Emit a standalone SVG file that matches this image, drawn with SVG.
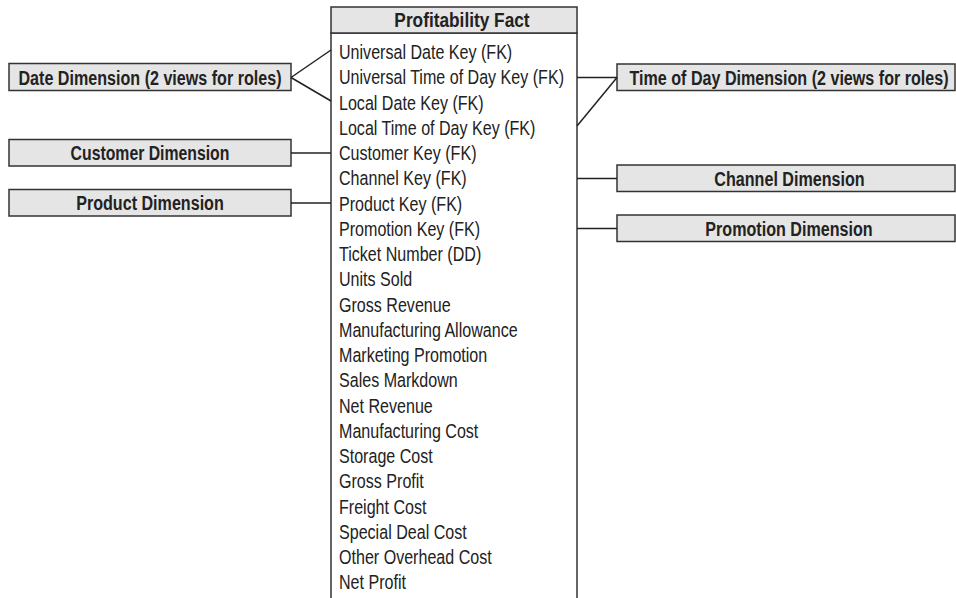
<svg xmlns="http://www.w3.org/2000/svg" width="956" height="598" viewBox="0 0 956 598">
<style>
.box{fill:#e5e5e5;stroke:#333;stroke-width:1.5}
.body{fill:#fff;stroke:#333;stroke-width:1.5}
.dim{font-family:"Liberation Sans",Arial,sans-serif;font-weight:bold;font-size:19.5px;fill:#222;text-anchor:middle}
.row{font-family:"Liberation Sans",Arial,sans-serif;font-size:19.5px;fill:#222}
.conn line{stroke:#222;stroke-width:1.5}
</style>
<rect width="956" height="598" fill="#fff"/>
<g id="fact">
<rect class="body" x="331" y="33" width="246" height="600"/>
<rect class="box" x="331" y="7" width="246" height="26"/>
<text class="dim" transform="translate(462,26.7) scale(0.886,1)" font-size="18">Profitability Fact</text>
<g class="row" transform="translate(339,0) scale(0.8245,1)">
<text x="0" y="59.3">Universal Date Key (FK)</text>
<text x="0" y="84.5">Universal Time of Day Key (FK)</text>
<text x="0" y="109.8">Local Date Key (FK)</text>
<text x="0" y="135">Local Time of Day Key (FK)</text>
<text x="0" y="160.3">Customer Key (FK)</text>
<text x="0" y="185.5">Channel Key (FK)</text>
<text x="0" y="210.7">Product Key (FK)</text>
<text x="0" y="236">Promotion Key (FK)</text>
<text x="0" y="261.2">Ticket Number (DD)</text>
<text x="0" y="286.5">Units Sold</text>
<text x="0" y="311.7">Gross Revenue</text>
<text x="0" y="336.9">Manufacturing Allowance</text>
<text x="0" y="362.2">Marketing Promotion</text>
<text x="0" y="387.4">Sales Markdown</text>
<text x="0" y="412.7">Net Revenue</text>
<text x="0" y="437.9">Manufacturing Cost</text>
<text x="0" y="463.1">Storage Cost</text>
<text x="0" y="488.4">Gross Profit</text>
<text x="0" y="513.6">Freight Cost</text>
<text x="0" y="538.9">Special Deal Cost</text>
<text x="0" y="564.1">Other Overhead Cost</text>
<text x="0" y="589.3">Net Profit</text>
</g>
</g>
<g id="date-dim">
<rect class="box" x="9" y="63.5" width="282" height="27"/>
<text class="dim" transform="translate(150,84.8) scale(0.826,1)">Date Dimension (2 views for roles)</text>
</g>
<g id="customer-dim">
<rect class="box" x="9" y="139.5" width="282" height="26.5"/>
<text class="dim" transform="translate(150,160.3) scale(0.81,1)">Customer Dimension</text>
</g>
<g id="product-dim">
<rect class="box" x="9" y="189.5" width="282" height="26.5"/>
<text class="dim" transform="translate(150,210.3) scale(0.826,1)">Product Dimension</text>
</g>
<g id="time-dim">
<rect class="box" x="617" y="64" width="338" height="26.5"/>
<text class="dim" transform="translate(789,84.8) scale(0.826,1)">Time of Day Dimension (2 views for roles)</text>
</g>
<g id="channel-dim">
<rect class="box" x="617" y="165" width="338" height="26.5"/>
<text class="dim" transform="translate(789.5,185.8) scale(0.826,1)">Channel Dimension</text>
</g>
<g id="promotion-dim">
<rect class="box" x="617" y="215" width="338" height="26.5"/>
<text class="dim" transform="translate(789,235.8) scale(0.826,1)">Promotion Dimension</text>
</g>
<g class="conn" id="connectors">
<line x1="291" y1="77.5" x2="331" y2="50"/>
<line x1="291" y1="77.5" x2="331" y2="101"/>
<line x1="291" y1="153" x2="331" y2="153"/>
<line x1="291" y1="203" x2="331" y2="203"/>
<line x1="577" y1="77.5" x2="617" y2="77.5"/>
<line x1="577" y1="126" x2="617" y2="77.5"/>
<line x1="577" y1="178.5" x2="617" y2="178.5"/>
<line x1="577" y1="228.5" x2="617" y2="228.5"/>
</g>
</svg>
